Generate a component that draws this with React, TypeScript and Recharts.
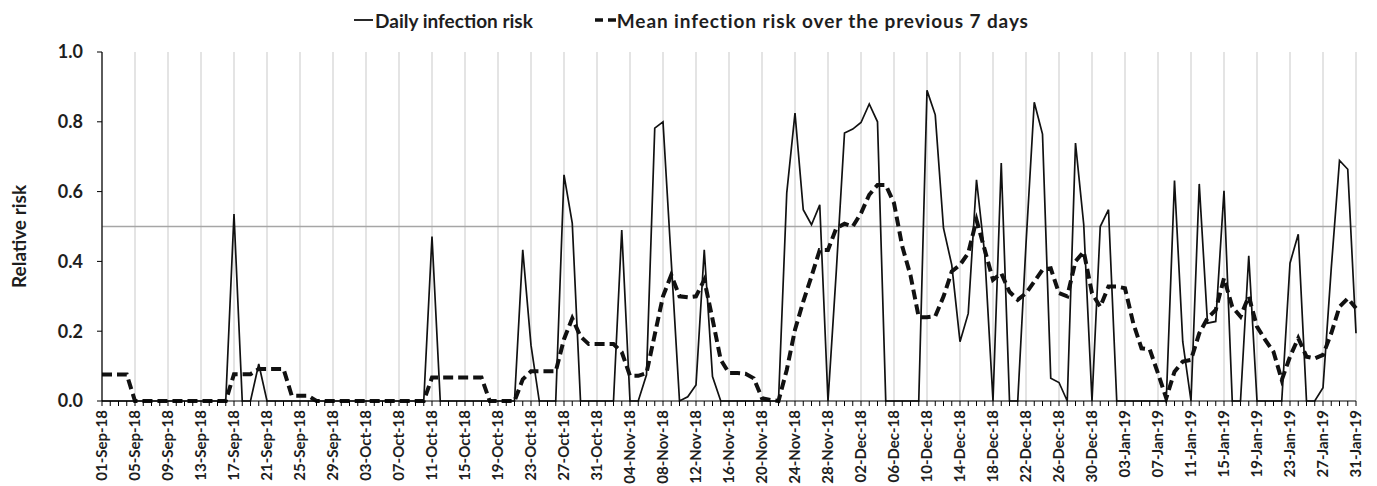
import React from 'react';
import { LineChart, Line, XAxis, YAxis, CartesianGrid, ReferenceLine, Legend } from 'recharts';

// one label every 4 days, 01-Sep-18 .. 31-Jan-19
const tickDays = [
  0, 4, 8, 12, 16, 20, 24, 28, 32, 36, 40, 44, 48, 52, 56, 60, 64, 68, 72, 76,
  80, 84, 88, 92, 96, 100, 104, 108, 112, 116, 120, 124, 128, 132, 136, 140, 144, 148, 152,
];
const tickLabels = [
  '01-Sep-18', '05-Sep-18', '09-Sep-18', '13-Sep-18', '17-Sep-18', '21-Sep-18', '25-Sep-18', '29-Sep-18',
  '03-Oct-18', '07-Oct-18', '11-Oct-18', '15-Oct-18', '19-Oct-18', '23-Oct-18', '27-Oct-18', '31-Oct-18',
  '04-Nov-18', '08-Nov-18', '12-Nov-18', '16-Nov-18', '20-Nov-18', '24-Nov-18', '28-Nov-18',
  '02-Dec-18', '06-Dec-18', '10-Dec-18', '14-Dec-18', '18-Dec-18', '22-Dec-18', '26-Dec-18', '30-Dec-18',
  '03-Jan-19', '07-Jan-19', '11-Jan-19', '15-Jan-19', '19-Jan-19', '23-Jan-19', '27-Jan-19', '31-Jan-19',
];
// small tick marks, one per day
const allDays = Array.from({ length: 153 }, (_, i) => i);

const dailyRisk = [
  0, 0, 0, 0, 0, 0, 0, 0, 0, 0,
  0, 0, 0, 0, 0, 0, 0.536, 0, 0, 0.106,
  0, 0, 0, 0, 0, 0, 0, 0, 0, 0,
  0, 0, 0, 0, 0, 0, 0, 0, 0, 0,
  0.471, 0, 0, 0, 0, 0, 0, 0, 0, 0,
  0, 0.433, 0.16, 0, 0, 0, 0.648, 0.51, 0, 0,
  0, 0, 0, 0.49, 0, 0, 0.075, 0.782, 0.8, 0.4,
  0, 0.012, 0.046, 0.433, 0.07, 0, 0, 0, 0, 0,
  0, 0, 0, 0.596, 0.825, 0.548, 0.505, 0.562, 0, 0.37,
  0.768, 0.779, 0.798, 0.851, 0.8, 0, 0, 0, 0, 0,
  0.89, 0.82, 0.495, 0.39, 0.17, 0.251, 0.634, 0.42, 0, 0.682,
  0, 0, 0.45, 0.856, 0.765, 0.065, 0.053, 0, 0.739, 0.505,
  0, 0.5, 0.548, 0, 0, 0, 0, 0, 0, 0,
  0.632, 0.17, 0, 0.622, 0.223, 0.228, 0.602, 0, 0, 0.416,
  0, 0, 0, 0, 0.395, 0.478, 0, 0, 0.038, 0.38,
  0.689, 0.664, 0.194,
];

const meanRisk = [
  0.076, 0.076, 0.076, 0.076, 0, 0, 0, 0, 0, 0,
  0, 0, 0, 0, 0, 0, 0.077, 0.077, 0.077, 0.092,
  0.092, 0.092, 0.092, 0.015, 0.015, 0.015, 0, 0, 0, 0,
  0, 0, 0, 0, 0, 0, 0, 0, 0, 0,
  0.067, 0.067, 0.067, 0.067, 0.067, 0.067, 0.067, 0, 0, 0,
  0, 0.062, 0.085, 0.085, 0.085, 0.085, 0.177, 0.237, 0.185, 0.163,
  0.163, 0.163, 0.163, 0.14, 0.072, 0.072, 0.08, 0.19, 0.3, 0.361,
  0.3, 0.297, 0.3, 0.347, 0.235, 0.118, 0.08, 0.08, 0.078, 0.065,
  0.008, 0.003, 0, 0.089, 0.204, 0.285, 0.357, 0.433, 0.433, 0.495,
  0.508, 0.5, 0.538, 0.591, 0.619, 0.619, 0.567, 0.443, 0.36, 0.24,
  0.24, 0.243, 0.299, 0.371, 0.39, 0.424, 0.519, 0.433, 0.347, 0.366,
  0.313, 0.29, 0.309, 0.342, 0.376, 0.38, 0.309, 0.3, 0.4, 0.428,
  0.309, 0.27, 0.328, 0.328, 0.323, 0.223, 0.151, 0.148, 0.079, 0.008,
  0.084, 0.113, 0.118, 0.194, 0.237, 0.261, 0.352, 0.27, 0.242, 0.3,
  0.213, 0.175, 0.141, 0.06, 0.127, 0.18, 0.127, 0.122, 0.132, 0.194,
  0.27, 0.294, 0.266,
];

const yTicks = [0, 0.2, 0.4, 0.6, 0.8, 1.0];

const data = dailyRisk.map((v, i) => ({ day: i, daily: v, mean: meanRisk[i] }));

const FONT = 'Lato, "Open Sans", sans-serif';
const INK = '#1e1e1e';

// every day gets a tick mark, only every 4th day gets a date label
const DateTick = ({ x, y, payload }: any) => {
  const idx = tickDays.indexOf(payload.value);
  if (idx < 0) return <g />;
  return (
    <text
      x={x}
      y={y}
      dy="0.36em"
      transform={`rotate(-90, ${x}, ${y})`}
      textAnchor="end"
      fontFamily={FONT}
      fontWeight={700}
      fontSize={15}
      fill={INK}
    >
      {tickLabels[idx]}
    </text>
  );
};

const YTitle = ({ viewBox }: any) => {
  const vb = viewBox || { x: 0, y: 52, width: 102, height: 349 };
  const cx = vb.x + 26;
  const cy = vb.y + vb.height / 2 + 10;
  return (
    <text
      x={cx}
      y={cy}
      transform={`rotate(-90, ${cx}, ${cy})`}
      textAnchor="middle"
      fontFamily={FONT}
      fontWeight={700}
      fontSize={19}
      fill={INK}
    >
      Relative risk
    </text>
  );
};

const ChartLegend = () => (
  <div
    style={{
      height: 52,
      boxSizing: 'border-box',
      paddingBottom: 12,
      display: 'flex',
      justifyContent: 'center',
      alignItems: 'center',
      fontFamily: FONT,
      fontWeight: 700,
      fontSize: 19,
      color: INK,
      paddingLeft: 6,
    }}
  >
    <span style={{ display: 'flex', alignItems: 'center', marginRight: 62 }}>
      <svg width={21} height={10}>
        <line x1={0} y1={5} x2={19} y2={5} stroke="#111" strokeWidth={1.8} />
      </svg>
      Daily infection risk
    </span>
    <span style={{ display: 'flex', alignItems: 'center', letterSpacing: 0.9 }}>
      <svg width={22} height={10}>
        <line x1={0} y1={5} x2={22} y2={5} stroke="#111" strokeWidth={3.5} strokeDasharray="8 5" />
      </svg>
      Mean infection risk over the previous 7 days
    </span>
  </div>
);

export default function App() {
  return (
    <div style={{ position: 'absolute', left: 0, top: 0, width: 1377, height: 486, background: '#fff' }}>
      <LineChart width={1377} height={486} data={data} margin={{ top: 0, right: 21, bottom: 0, left: 0 }}>
        <Legend
          verticalAlign="top"
          align="center"
          height={52}
          content={<ChartLegend />}
          wrapperStyle={{ left: 0, top: 0, width: 1377 }}
        />
        <CartesianGrid horizontal={false} stroke="#c9c9c9" strokeWidth={1} verticalValues={tickDays} />
        <XAxis
          dataKey="day"
          type="number"
          domain={[0, 152]}
          ticks={allDays}
          interval={0}
          height={85}
          tick={<DateTick />}
          tickSize={5}
          tickMargin={4}
          axisLine={{ stroke: '#000', strokeWidth: 1.2 }}
          tickLine={{ stroke: '#000', strokeWidth: 1 }}
        />
        <YAxis
          type="number"
          domain={[0, 1]}
          ticks={yTicks}
          interval={0}
          width={102}
          tickSize={5}
          tickMargin={14}
          tickFormatter={(v: number) => v.toFixed(1)}
          tick={{ fontFamily: FONT, fontWeight: 700, fontSize: 18, fill: INK }}
          axisLine={{ stroke: '#000', strokeWidth: 1.2 }}
          tickLine={{ stroke: '#000', strokeWidth: 1 }}
          label={{ content: <YTitle /> }}
        />
        <ReferenceLine y={0.5} stroke="#a6a6a6" strokeWidth={1.5} />
        <Line
          type="linear"
          dataKey="daily"
          stroke="#111"
          strokeWidth={1.7}
          dot={false}
          activeDot={false}
          isAnimationActive={false}
        />
        <Line
          type="linear"
          dataKey="mean"
          stroke="#111"
          strokeWidth={4}
          strokeDasharray="10 5"
          dot={false}
          activeDot={false}
          isAnimationActive={false}
        />
      </LineChart>
    </div>
  );
}
